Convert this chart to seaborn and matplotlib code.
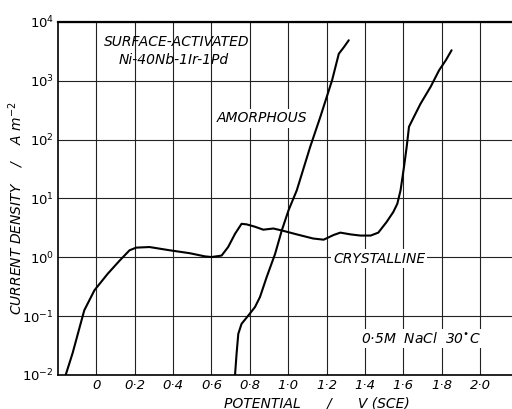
import numpy as np
import pandas as pd
import matplotlib
matplotlib.use("Agg")
import matplotlib.pyplot as plt
import seaborn as sns

# Crystalline curve: potential (V SCE), log10 current density (A m^-2)
cryst_v = [-0.16, -0.124, -0.089, -0.063, -0.01, 0.059, 0.12, 0.173, 0.208, 0.277,
           0.382, 0.487, 0.565, 0.60, 0.653, 0.687, 0.723, 0.757, 0.784, 0.827,
           0.87, 0.923, 0.975, 1.045, 1.13, 1.185, 1.237, 1.272, 1.325, 1.377,
           1.43, 1.47, 1.513, 1.548, 1.569, 1.586, 1.604, 1.618, 1.63, 1.656,
           1.69, 1.743, 1.787, 1.822, 1.852]
cryst_log = [-2.0, -1.63, -1.21, -0.90, -0.56, -0.28, -0.06, 0.12, 0.165, 0.175,
             0.12, 0.07, 0.017, 0.005, 0.03, 0.175, 0.40, 0.57, 0.56, 0.52,
             0.47, 0.49, 0.45, 0.39, 0.32, 0.30, 0.38, 0.42, 0.39, 0.37,
             0.37, 0.42, 0.60, 0.77, 0.91, 1.14, 1.54, 1.88, 2.22, 2.39,
             2.61, 2.90, 3.18, 3.35, 3.52]

# Amorphous curve
amor_v = [0.723, 0.731, 0.74, 0.757, 0.792, 0.827, 0.853, 0.888, 0.932, 0.967,
          1.002, 1.045, 1.115, 1.168, 1.229, 1.264, 1.29, 1.316]
amor_log = [-2.0, -1.64, -1.30, -1.13, -0.99, -0.845, -0.675, -0.335, 0.06, 0.46,
            0.80, 1.14, 1.88, 2.39, 3.01, 3.46, 3.57, 3.69]

x_ticks = [0, 0.2, 0.4, 0.6, 0.8, 1.0, 1.2, 1.4, 1.6, 1.8, 2.0]
x_tick_labels = ["0", "0·2", "0·4", "0·6", "0·8", "1·0", "1·2", "1·4", "1·6", "1·8", "2·0"]
y_exps = [-2, -1, 0, 1, 2, 3, 4]

df = pd.concat([
    pd.DataFrame({"V": cryst_v, "I": 10.0 ** np.array(cryst_log), "s": "CRYSTALLINE"}),
    pd.DataFrame({"V": amor_v, "I": 10.0 ** np.array(amor_log), "s": "AMORPHOUS"}),
], ignore_index=True)

sns.set_style("white")
plt.rcParams["font.family"] = ["DejaVu Sans"]
plt.rcParams["mathtext.fontset"] = "dejavusans"
plt.rcParams["mathtext.default"] = "it"
for k in ["text.color", "axes.labelcolor", "xtick.color", "ytick.color"]:
    plt.rcParams[k] = "black"

fig = plt.figure(figsize=(5.12, 4.09), dpi=100)
ax = fig.add_axes([58 / 512, 1 - 375 / 409, 1 - 58 / 512, (375 - 22) / 409])

ax.set_yscale("log")
ax.set_xlim(-0.2, 2.167)
ax.set_ylim(1e-2, 1e4)

for v in x_ticks:
    ax.axvline(v, color="#222222", lw=0.8, zorder=1)
for e in y_exps:
    ax.axhline(10.0 ** e, color="#222222", lw=0.8, zorder=1)

sns.lineplot(data=df, x="V", y="I", units="s", estimator=None, sort=False,
             color="black", lw=1.5, ax=ax, zorder=3, legend=False)

ax.set_xticks(x_ticks)
ax.set_xticklabels(x_tick_labels, fontsize=9.5, style="italic")
ax.set_yticks([10.0 ** e for e in y_exps])
ax.set_yticklabels([r"$10^{%d}$" % e for e in y_exps], fontsize=9.5)
ax.minorticks_off()
ax.tick_params(length=0, pad=3)

ax.set_xlabel("POTENTIAL      /      V (SCE)", fontsize=10, style="italic")
ax.xaxis.set_label_coords(0.57, -0.06)
ax.set_ylabel("")
fig.text(16 / 512, 1 - 208 / 409, r"CURRENT DENSITY    /    A m$^{-2}$", fontsize=10,
         style="italic", rotation=90, ha="center", va="center")

for side in ["left", "bottom"]:
    ax.spines[side].set_color("black")
    ax.spines[side].set_linewidth(1.2)
ax.spines["top"].set_color("black")
ax.spines["top"].set_linewidth(1.6)
ax.spines["right"].set_visible(False)

box = dict(facecolor="white", edgecolor="none", pad=1.5)
ax.text(0.04, 10 ** 3.66, "SURFACE-ACTIVATED", fontsize=10, style="italic",
        va="center", ha="left", zorder=4)
ax.text(0.115, 10 ** 3.36, "Ni-40Nb-1Ir-1Pd", fontsize=10, style="italic",
        va="center", ha="left", zorder=4)
ax.text(0.63, 10 ** 2.36, "AMORPHOUS", fontsize=10, style="italic",
        va="center", ha="left", bbox=box, zorder=2)
ax.text(1.235, 10 ** -0.02, "CRYSTALLINE", fontsize=10, style="italic",
        va="center", ha="left", bbox=box, zorder=2)
ax.text(1.38, 10 ** -1.38, "0·5M  NaCl  30$^{\\bullet}$C", fontsize=10, style="italic",
        va="center", ha="left", bbox=box, zorder=2)

fig.savefig("out.png", dpi=100)
